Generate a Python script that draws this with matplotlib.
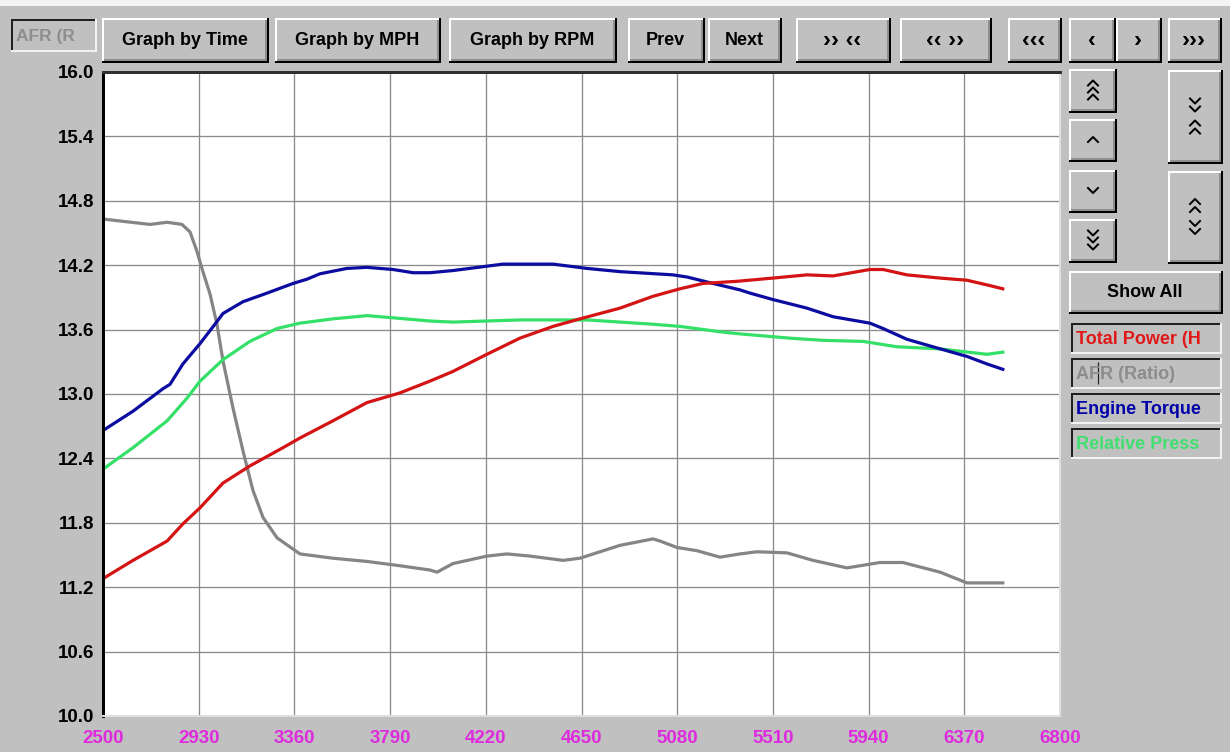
import matplotlib
matplotlib.use("Agg")
import matplotlib.pyplot as plt
from matplotlib.patches import Rectangle

# ---------------- data ----------------
x_ticks = [2500, 2930, 3360, 3790, 4220, 4650, 5080, 5510, 5940, 6370, 6800]
y_ticks = [10.0, 10.6, 11.2, 11.8, 12.4, 13.0, 13.6, 14.2, 14.8, 15.4, 16.0]

power_rpm = [2500, 2635, 2788, 2859, 2936, 3039, 3160, 3309, 3385, 3533, 3686, 3834,
             3969, 4072, 4225, 4373, 4522, 4643, 4823, 4971, 5092, 5196, 5349, 5510,
             5663, 5780, 5946, 6005, 6112, 6261, 6382, 6485, 6543]
power_val = [11.28, 11.45, 11.63, 11.79, 11.94, 12.17, 12.33, 12.50, 12.59, 12.75, 12.92, 13.01,
             13.12, 13.21, 13.37, 13.52, 13.63, 13.70, 13.80, 13.91, 13.98, 14.03, 14.05, 14.08,
             14.11, 14.10, 14.16, 14.16, 14.11, 14.08, 14.06, 14.01, 13.98]

afr_rpm = [2500, 2711, 2788, 2855, 2891, 2922, 2949, 2981, 3012, 3039, 3084, 3129, 3174,
           3219, 3282, 3385, 3533, 3686, 3834, 3969, 4001, 4072, 4225, 4315, 4418, 4567,
           4643, 4823, 4971, 5003, 5079, 5169, 5272, 5362, 5438, 5573, 5690, 5843, 5991,
           6094, 6261, 6382, 6543]
afr_val = [14.63, 14.58, 14.60, 14.58, 14.51, 14.33, 14.14, 13.93, 13.65, 13.31, 12.87, 12.47, 12.10,
           11.85, 11.66, 11.51, 11.47, 11.44, 11.40, 11.36, 11.34, 11.42, 11.49, 11.51, 11.49, 11.45,
           11.47, 11.59, 11.65, 11.63, 11.57, 11.54, 11.48, 11.51, 11.53, 11.52, 11.45, 11.38, 11.43,
           11.43, 11.34, 11.24, 11.24]

torque_rpm = [2500, 2635, 2770, 2801, 2859, 2936, 3003, 3039, 3129, 3237, 3354, 3417, 3475,
              3596, 3686, 3803, 3893, 3969, 4072, 4297, 4522, 4675, 4823, 5061, 5124, 5241,
              5362, 5407, 5510, 5663, 5780, 5946, 6005, 6112, 6229, 6382, 6472, 6543]
torque_val = [12.66, 12.84, 13.05, 13.09, 13.28, 13.47, 13.65, 13.75, 13.86, 13.94, 14.03, 14.07, 14.12,
              14.17, 14.18, 14.16, 14.13, 14.13, 14.15, 14.21, 14.21, 14.17, 14.14, 14.11, 14.09, 14.03,
              13.97, 13.94, 13.88, 13.80, 13.72, 13.66, 13.61, 13.51, 13.44, 13.35, 13.28, 13.23]

press_rpm = [2500, 2635, 2788, 2877, 2936, 3039, 3160, 3282, 3385, 3533, 3686, 3803, 3969,
             4072, 4373, 4675, 4971, 5092, 5272, 5362, 5587, 5735, 5915, 6067, 6261, 6472, 6543]
press_val = [12.30, 12.50, 12.75, 12.96, 13.12, 13.32, 13.49, 13.61, 13.66, 13.70, 13.73, 13.71, 13.68,
             13.67, 13.69, 13.69, 13.65, 13.63, 13.58, 13.56, 13.52, 13.50, 13.49, 13.44, 13.42, 13.37, 13.39]

series_names = ["Total Power (H", "AFR (Ratio)", "Engine Torque", "Relative Press"]
series_colors = ["#D41414", "#858585", "#0C0CA0", "#34E068"]
legend_colors = ["#E01818", "#8C8C8C", "#0000A8", "#40E070"]

top_buttons = ["Graph by Time", "Graph by MPH", "Graph by RPM", "Prev", "Next",
               "\u203a\u203a \u2039\u2039", "\u2039\u2039 \u203a\u203a", "\u2039\u2039\u2039",
               "\u2039", "\u203a", "\u203a\u203a\u203a"]

# ---------------- figure ----------------
W, H = 1230, 752
FACE = "#C0C0C0"
FONT = ["Liberation Sans", "DejaVu Sans"]
plt.rcParams["font.family"] = FONT

fig = plt.figure(figsize=(W / 100, H / 100), dpi=100, facecolor=FACE)
ui = fig.add_axes([0, 0, 1, 1])
ui.set_xlim(0, W)
ui.set_ylim(H, 0)
ui.axis("off")

PX = 0.72  # one pixel in points


def hline(x0, x1, y, c, w=1):
    ui.plot([x0, x1], [y, y], color=c, lw=w * PX, solid_capstyle="butt")


def vline(x, y0, y1, c, w=1):
    ui.plot([x, x], [y0, y1], color=c, lw=w * PX, solid_capstyle="butt")


def button(x0, y0, x1, y1, label=None, size=13):
    ui.add_patch(Rectangle((x0, y0), x1 - x0, y1 - y0, facecolor=FACE, edgecolor="none"))
    hline(x0, x1 - 1, y0 + 1, "white", 2)
    vline(x0 + 1, y0, y1 - 1, "white", 2)
    hline(x0 + 2, x1 - 2, y1 - 3, "#808080", 1.5)
    vline(x1 - 3, y0 + 2, y1 - 2, "#808080", 1.5)
    hline(x0, x1, y1 - 1, "black", 2)
    vline(x1 - 1, y0, y1, "black", 2)
    if label:
        ui.text((x0 + x1) / 2 - 1, (y0 + y1) / 2, label, ha="center", va="center",
                fontsize=size, fontweight="bold", color="black")


def sunken(x0, y0, x1, y1, label, color, size=13):
    ui.add_patch(Rectangle((x0, y0), x1 - x0, y1 - y0, facecolor=FACE, edgecolor="none"))
    hline(x0, x1, y0 + 1, "#202020", 2)
    vline(x0 + 1, y0, y1, "#202020", 2)
    hline(x0, x1, y1 - 1, "#F2F2F2", 2)
    vline(x1 - 1, y0, y1, "#F2F2F2", 2)
    ui.text(x0 + 5, (y0 + y1) / 2 + 1, label, ha="left", va="center",
            fontsize=size, fontweight="bold", color=color)


def chevron(cx, yc, d):
    if d == "u":
        ui.plot([cx - 5, cx, cx + 5], [yc + 2.5, yc - 2.5, yc + 2.5], color="black", lw=2 * PX)
    else:
        ui.plot([cx - 5, cx, cx + 5], [yc - 2.5, yc + 2.5, yc - 2.5], color="black", lw=2 * PX)


def chevron_group(cx, cy, dirs, step=7):
    n = len(dirs)
    start = cy - step * (n - 1) / 2
    for i, d in enumerate(dirs):
        chevron(cx, start + i * step, d)


# thin light strip at very top
ui.add_patch(Rectangle((0, 0), W, 6, facecolor="#F3F3F3", edgecolor="none"))

# top row
sunken(11, 19, 97, 52, "AFR (R", "#8E8E8E", size=12.5)
top_x = [(102, 269), (275, 441), (449, 617), (628, 705), (708, 782), (796, 891),
         (900, 992), (1008, 1062), (1069, 1116), (1116, 1162), (1168, 1222)]
for i, ((a, b), lab) in enumerate(zip(top_x, top_buttons)):
    button(a, 18, b, 63, lab, size=13 if i < 5 else 17)

# right column
small_btns = [(69, 113, "uuu"), (119, 162, "u"), (170, 213, "d"), (219, 263, "ddd")]
for y0, y1, d in small_btns:
    button(1069, y0, 1117, y1)
    chevron_group(1093, (y0 + y1) / 2 - 1, d)
tall_btns = [(70, 164, "dd", "uu"), (171, 264, "uu", "dd")]
for y0, y1, g1, g2 in tall_btns:
    button(1168, y0, 1223, y1)
    cy = (y0 + y1) / 2 - 1
    chevron_group(1195, cy - 11, g1, step=8)
    chevron_group(1195, cy + 11, g2, step=8)
button(1069, 271, 1223, 314, "Show All", size=13)

leg_y = [(323, 354), (358, 389), (393, 424), (428, 459)]
for (y0, y1), name, col in zip(leg_y, series_names, legend_colors):
    sunken(1071, y0, 1222, y1, name, col, size=13)
# text cursor in "AFR (Ratio)"
vline(1098, 362, 384, "#202020", 1.2)

# ---------------- plot ----------------
L, R, T, B = 103, 1060, 72, 716
ax = fig.add_axes([L / W, 1 - B / H, (R - L) / W, (B - T) / H])
ax.set_facecolor("white")
ax.set_xlim(x_ticks[0], x_ticks[-1])
ax.set_ylim(y_ticks[0], y_ticks[-1])
ax.set_xticks(x_ticks)
ax.set_yticks(y_ticks)
ax.set_xticklabels([str(v) for v in x_ticks], color="#DD2BDD", fontweight="bold", fontsize=13.5)
ax.set_yticklabels(["%.1f" % v for v in y_ticks], color="black", fontweight="bold", fontsize=13.5)
ax.tick_params(axis="x", length=0, pad=10)
ax.tick_params(axis="y", length=0, pad=6)
ax.grid(True, color="#8A8A8A", lw=1.3 * PX)
ax.set_axisbelow(True)
for side, col, w in [("left", "black", 3), ("top", "#303030", 3),
                     ("right", "#E0E0E0", 2), ("bottom", "#E0E0E0", 2)]:
    ax.spines[side].set_color(col)
    ax.spines[side].set_linewidth(w * PX)

for rpm, val, col in zip([afr_rpm, press_rpm, torque_rpm, power_rpm],
                         [afr_val, press_val, torque_val, power_val],
                         [series_colors[1], series_colors[3], series_colors[2], series_colors[0]]):
    ax.plot(rpm, val, color=col, lw=3.2 * PX, solid_joinstyle="round")

fig.savefig("out.png", dpi=100, facecolor=FACE)
